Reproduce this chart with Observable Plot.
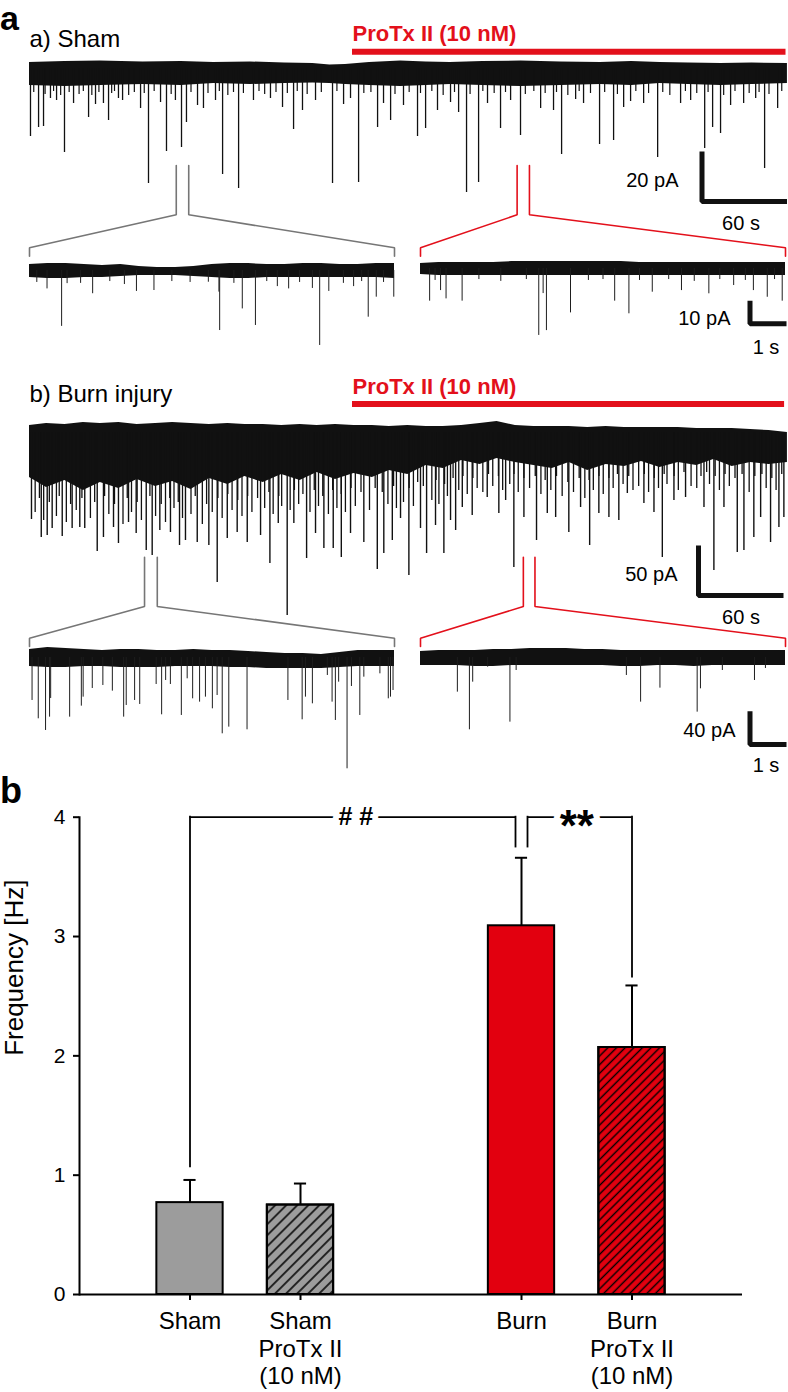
<!DOCTYPE html>
<html>
<head>
<meta charset="utf-8">
<script src="https://cdn.jsdelivr.net/npm/d3@7"></script>
<script src="https://cdn.jsdelivr.net/npm/@observablehq/plot@0.6"></script>
<style>
html,body{margin:0;padding:0;background:#fff;}
#fig{position:relative;width:788px;height:1392px;overflow:hidden;font-family:"Liberation Sans",Arial,Helvetica,sans-serif;color:#000;}
.layer{position:absolute;left:0;}
.layer svg{display:block;overflow:visible;background:transparent;}
.lbl{position:absolute;line-height:1;white-space:nowrap;}
</style>
</head>
<body>
<svg width="0" height="0" style="position:absolute">
 <defs>
  <pattern id="hatchSham" patternUnits="userSpaceOnUse" width="7.8" height="7.8" patternTransform="rotate(45)">
   <line x1="3.9" y1="-1" x2="3.9" y2="8.8" stroke="#000" stroke-width="1.5"/>
  </pattern>
  <pattern id="hatchBurn" patternUnits="userSpaceOnUse" width="6.1" height="6.1" patternTransform="rotate(45)">
   <line x1="3.05" y1="-1" x2="3.05" y2="7.1" stroke="#000" stroke-width="1.4"/>
  </pattern>
 </defs>
</svg>
<div id="fig"></div>
<script>
// ======================= DATA =======================
// Panel a(a) Sham, main recording: time [s], current [pA] relative to baseline
const shamBandT   = [0, 25, 50, 80, 107, 130, 156, 180, 200, 212, 223, 240, 262, 280, 297, 320, 347, 375, 403, 425, 445, 465, 488, 510, 535];
const shamBandHi  = [2.4, 2.8, 3.0, 2.6, 2.8, 2.4, 2.6, 2.2, 2.0, 1.4, 1.6, 2.4, 3.0, 2.6, 2.4, 2.8, 3.0, 2.6, 2.4, 2.8, 2.4, 2.2, 2.0, 2.2, 2.0];
const shamBandLo  = [-6.8, -7.2, -6.8, -6.4, -6.8, -6.0, -6.4, -6.0, -5.8, -6.0, -6.4, -6.8, -7.2, -6.8, -6.4, -6.8, -7.2, -6.8, -6.4, -6.8, -6.0, -6.4, -6.8, -6.4, -6.0];
const shamEvents  = [[0.7,-27.2],[6.4,-23.6],[9.9,-23.2],[24.7,-33.6],[41.7,-19.6],[55.8,-20.8],[84.0,-46.0],[96.7,-33.2],[107.3,-31.6],[110.8,-21.6],[136.3,-42.4],[147.6,-48.0],[186.4,-24.4],[213.9,-46.0],[232.3,-45.6],[245.7,-23.6],[254.9,-20.8],[273.9,-27.2],[279.6,-24.0],[308.5,-49.6],[317.0,-45.6],[332.5,-24.0],[346.6,-26.8],[375.6,-34.4],[402.4,-30.4],[412.3,-28.8],[443.4,-35.6],[476.6,-32.0],[482.2,-23.6],[487.8,-26.0],[518.9,-40.0],
  [14.8,-12.0],[31.1,-14.0],[46.6,-14.4],[52.2,-14.0],[65.7,-12.8],[78.4,-16.0],[118.6,-14.8],[122.8,-16.0],[158.1,-12.8],[178.6,-15.6],[192.7,-16.8],[221.7,-14.4],[249.9,-14.0],[264.0,-14.8],[288.0,-16.8],[302.9,-17.6],[323.3,-14.0],[360.8,-16.0],[369.9,-16.8],[391.1,-14.0],[419.4,-15.6],[433.5,-14.0],[459.6,-14.0],[494.9,-14.8],[504.1,-14.0],[528.1,-16.0],[19.1,-12.8],[62.8,-12.0],[92.5,-13.6],[103.0,-12.8],[131.3,-12.8],[170.1,-12.0],[201.9,-12.8],[226.6,-12.0],[297.2,-13.6],[339.6,-12.8],[385.5,-12.4],[424.3,-13.2],[466.7,-12.8],[512.6,-12.0]];
const shamShort   = [[3,-9.6],[11,-10.4],[17,-9.2],[22,-10.8],[28,-9.6],[35,-10.4],[38,-9.2],[44,-10.8],[49,-9.6],[58,-10.0],[60,-9.2],[70,-10.8],[74,-9.6],[81,-10.0],[88,-9.2],[100,-10.4],[114,-9.6],[126,-10.0],[134,-9.2],[140,-10.8],[144,-9.6],[151,-10.0],[162,-9.2],[166,-10.4],[174,-9.6],[182,-10.0],[189,-9.2],[196,-10.4],[206,-9.6],[217,-9.2],[236,-10.0],[241,-9.6],[258,-10.4],[268,-9.6],[276,-10.0],[284,-9.2],[292,-10.8],[300,-9.6],[311,-10.4],[320,-9.2],[328,-10.0],[336,-9.6],[350,-10.4],[356,-9.2],[364,-10.0],[372,-9.6],[380,-10.8],[388,-9.2],[396,-10.0],[406,-9.6],[415,-10.4],[428,-9.2],[437,-10.0],[447,-9.6],[452,-10.8],[463,-9.2],[471,-10.0],[479,-9.6],[490,-10.8],[498,-9.2],[508,-10.0],[515,-9.6],[522,-10.4],[531,-9.2]];
const shamDrug    = [228, 534];             // ProTx II application [s]
const shamZoomWin = [[103.6, 112.4], [344.2, 352.9]]; // expanded windows [s]
const shamScale   = {pA: 20, s: 60};

// Sham expanded segments (time [s], pA)
const subT           = [0, 0.5, 1, 1.5, 2, 2.5, 3, 3.5, 4, 4.5, 5, 5.5, 6, 6.5, 7, 7.5, 8, 8.5, 9, 9.5, 10];
const shamCtrlHi     = [2.6, 3.0, 3.0, 2.6, 2.2, 2.6, 1.7, 1.3, 1.3, 1.7, 2.6, 3.0, 3.0, 2.6, 2.6, 3.0, 3.0, 2.6, 2.6, 3.0, 3.0];
const shamCtrlLo     = [-3.0, -3.5, -3.5, -3.0, -3.0, -2.6, -2.2, -2.2, -2.2, -2.6, -3.0, -3.5, -3.5, -3.0, -3.0, -3.0, -3.0, -3.0, -3.0, -3.0, -3.5];
const shamCtrlEvents = [[0.48,-8.0],[0.88,-24.3],[1.03,-5.7],[1.73,-10.1],[2.93,-9.1],[3.41,-8.7],[4.90,-5.1],[5.19,-9.4],[5.21,-26.1],[5.83,-16.7],[6.19,-23.9],[6.79,-7.0],[7.10,-8.0],[7.75,-7.8],[7.95,-32.6],[8.20,-9.1],[8.88,-7.0],[9.28,-20.3],[9.50,-11.6],[9.98,-11.6],
  [0.2,-5.2],[1.4,-5.6],[2.2,-4.8],[2.6,-6.1],[3.9,-4.8],[4.4,-5.2],[5.6,-5.6],[6.5,-4.8],[7.4,-5.2],[8.6,-5.6],[9.1,-4.8],[9.7,-5.2]];
const shamDrugHi     = [2.2, 2.6, 2.6, 2.6, 2.6, 3.0, 3.0, 3.0, 3.0, 3.0, 3.0, 3.0, 2.6, 2.6, 2.6, 2.6, 2.6, 2.6, 2.6, 2.6, 2.6];
const shamDrugLo     = [-2.6, -3.0, -3.0, -3.0, -3.0, -3.0, -3.0, -3.0, -3.0, -3.0, -3.0, -3.0, -3.0, -3.0, -3.0, -3.0, -3.0, -3.0, -3.0, -3.0, -3.0];
const shamDrugEvents = [[0.25,-14.2],[0.55,-9.6],[0.70,-13.2],[1.14,-14.2],[3.24,-29.1],[3.36,-10.9],[3.45,-27.0],[4.11,-19.3],[5.32,-14.2],[5.71,-19.7],[6.35,-10.3],[7.15,-9.6],[7.90,-11.0],[8.58,-7.4],[9.12,-9.6],[9.50,-12.5],[9.91,-14.2],
  [0.4,-5.2],[1.6,-4.8],[2.2,-5.6],[2.9,-4.8],[4.6,-5.2],[5.0,-4.8],[6.0,-5.2],[6.8,-4.8],[7.5,-5.6],[8.2,-4.8],[8.9,-5.2],[9.7,-4.8]];
const shamSubScale   = {pA: 10, s: 1};

// Panel a(b) Burn injury, main recording
const burnBandT   = [0, 12, 25, 38, 50, 63, 76, 89, 101, 114, 127, 140, 152, 165, 178, 191, 203, 216, 229, 242, 254, 267, 280, 292, 305, 318, 330, 343, 356, 369, 381, 394, 407, 420, 432, 445, 458, 471, 483, 496, 509, 522, 535];
const burnBandHi  = [7, 9, 8, 10, 9, 10, 8, 9, 10, 9, 8, 9, 8, 8, 7, 8, 7, 8, 7, 7, 6, 7, 6, 6, 7, 9, 11, 7, 6, 6, 6, 5, 6, 5, 5, 5, 5, 4, 4, 4, 3, 2, 0];
const burnBandLo  = [-45, -55, -48, -58, -50, -56, -47, -54, -49, -57, -46, -52, -44, -50, -42, -48, -40, -47, -41, -45, -38, -42, -33, -36, -28, -32, -26, -30, -33, -36, -30, -38, -32, -34, -29, -35, -30, -33, -27, -34, -30, -32, -30];
const burnEvents  = [[1.4,-87],[8.3,-105],[12.5,-103],[16.0,-96],[23.1,-104],[30.1,-96],[35.5,-95],[39.0,-96],[47.8,-119],[52.2,-105],[59.3,-95],[62.8,-111],[69.9,-90],[75.3,-101],[82.4,-118],[86.6,-123],[92.0,-98],[99.5,-100],[105.9,-113],[110.1,-108],[118.4,-110],[126.6,-113],[132.5,-150],[139.6,-106],[146.6,-100],[153.7,-110],[163.1,-103],[169.7,-131],[175.6,-91],[181.9,-183],[186.6,-91],[195.6,-126],[201.9,-101],[207.8,-116],[214.4,-116],[220.1,-125],[226.6,-101],[236.0,-110],[245.5,-137],[250.1,-121],[256.1,-108],[261.9,-86],[267.8,-143],[276.0,-96],[280.3,-121],[286.6,-93],[292.5,-121],[297.2,-88],[300.8,-98],[305.5,-75],[312.5,-83],[323.1,-65],[331.3,-81],[336.1,-68],[341.9,-135],[349.0,-85],[357.9,-108],[365.5,-81],[371.4,-85],[380.7,-100],[389.0,-75],[395.4,-113],[401.9,-81],[409.0,-85],[416.0,-88],[422.0,-61],[433.7,-71],[440.8,-80],[446.7,-125],[454.9,-68],[463.1,-65],[476.1,-75],[483.1,-138],[490.2,-75],[499.6,-120],[504.3,-118],[511.3,-105],[516.1,-85],[523.1,-110],[529.0,-95],[532.5,-85]];
const burnFringe  = [[4,-80],[10,-88],[19,-84],[26,-90],[33,-78],[43,-86],[56,-82],[66,-92],[72,-80],[79,-88],[89,-84],[96,-90],[102,-76],[108,-86],[114,-82],[122,-92],[129,-80],[136,-86],[143,-78],[150,-84],[157,-80],[166,-76],[172,-82],[178,-74],[184,-78],[190,-72],[198,-80],[204,-74],[211,-82],[217,-76],[223,-80],[230,-74],[240,-78],[253,-72],[259,-76],[264,-70],[271,-74],[284,-68],[289,-72],[295,-64],[303,-58],[309,-62],[316,-56],[320,-60],[327,-54],[334,-58],[339,-52],[345,-60],[353,-56],[361,-62],[368,-58],[376,-64],[384,-60],[392,-66],[398,-58],[405,-62],[412,-56],[419,-52],[426,-58],[430,-54],[437,-60],[444,-56],[450,-52],[458,-58],[467,-54],[471,-56],[480,-52],[487,-58],[494,-54],[508,-60],[520,-56],[527,-58],
  [7,-66],[14,-70],[21,-64],[29,-72],[37,-66],[46,-70],[53,-64],[60,-72],[69,-66],[76,-70],[85,-64],[93,-72],[99,-66],[105,-70],[117,-64],[125,-72],[133,-66],[140,-62],[147,-68],[154,-64],[161,-66],[169,-60],[176,-64],[187,-58],[193,-62],[201,-58],[207,-64],[214,-58],[220,-62],[227,-56],[234,-60],[244,-56],[249,-60],[257,-54],[268,-56],[274,-50],[278,-54],[287,-48],[293,-52],[299,-46],[306,-44],[313,-46],[324,-42],[331,-44],[342,-42],[349,-46],[357,-44],[364,-48],[372,-44],[380,-50],[388,-46],[395,-48],[402,-44],[409,-46],[415,-42],[423,-44],[434,-42],[441,-46],[448,-42],[455,-44],[462,-40],[474,-44],[478,-40],[484,-44],[491,-42],[498,-46],[503,-42],[512,-44],[517,-42],[524,-46],[531,-42]];
const burnDrug    = [228, 533];
const burnZoomWin = [[81.2, 90.2], [348.6, 356.8]];
const burnScale   = {pA: 50, s: 60};

// Burn expanded segments
const burnCtrlHi     = [9.6, 12, 10.8, 9.6, 8.4, 9.6, 9.6, 8.4, 8.4, 9.6, 8.4, 8.4, 7.2, 6.0, 4.8, 4.8, 3.6, 6.0, 8.4, 8.4, 8.4];
const burnCtrlLo     = [-10.8, -12, -12, -10.8, -10.8, -12, -12, -12, -10.8, -10.8, -10.8, -12, -12, -13.2, -13.2, -13.2, -13.2, -12, -10.8, -10.8, -10.8];
const burnCtrlEvents = [[0.07,-51.6],[0.24,-73.6],[0.44,-87.6],[0.55,-71.6],[0.58,-49.2],[1.10,-71.6],[1.42,-58.4],[1.47,-47.6],[1.72,-37.2],[2.01,-33.6],[2.27,-40.4],[2.58,-71.6],[2.65,-57.6],[2.88,-51.6],[3.02,-56.4],[3.47,-32.4],[3.62,-68.8],[3.73,-27.6],[3.86,-32.4],[4.16,-69.6],[4.32,-25.6],[4.47,-49.6],[4.66,-53.6],[4.82,-47.6],[5.01,-61.6],[5.14,-45.6],[5.28,-91.6],[5.46,-83.6],[5.96,-86.8],[7.08,-51.6],[7.47,-74.8],[7.56,-47.6],[7.75,-55.6],[8.16,-21.6],[8.29,-53.6],[8.38,-75.6],[8.47,-29.6],[8.70,-133.6],[8.82,-34.8],[9.05,-69.6],[9.16,-23.6],[9.60,-19.6],[9.83,-49.6],[9.89,-47.6],[9.96,-39.6]];
const burnDrugHi     = [7.2, 8.4, 8.4, 8.4, 9.6, 9.6, 10.8, 10.8, 10.8, 9.6, 9.6, 8.4, 8.4, 8.4, 8.4, 8.4, 8.4, 8.4, 8.4, 8.4, 8.4];
const burnDrugLo     = [-9.6, -9.6, -9.6, -10.8, -10.8, -9.6, -9.6, -9.6, -9.6, -9.6, -9.6, -10.8, -10.8, -9.6, -9.6, -10.8, -9.6, -9.6, -9.6, -9.6, -9.6];
const burnDrugEvents = [[1.01,-41.6],[1.34,-86.8],[1.43,-29.6],[1.84,-11.6],[2.45,-77.6],[2.62,-15.6],[5.64,-21.6],[6.03,-53.6],[6.56,-36.8],[7.58,-65.6],[7.67,-37.6],[8.27,-15.6],[9.15,-27.6],[9.45,-13.2]];
const burnSubScale   = {pA: 40, s: 1};

// Panel b: sEPSC frequency
const barCats   = ["Sham", "Sham ProTx II", "Burn", "Burn ProTx II"];
const barLabels = ["Sham", "Sham\nProTx II\n(10 nM)", "Burn", "Burn\nProTx II\n(10 nM)"];
const barMean   = [0.77, 0.75, 3.09, 2.07];
const barSEM    = [0.19, 0.18, 0.57, 0.52];
const barGroup  = ["sham", "sham", "burn", "burn"];
const barHatch  = [false, true, false, true];
const yTicks    = [0, 1, 2, 3, 4];
const sigFrom   = ["Sham", "Burn"];
const sigTo     = ["Burn", "Burn ProTx II"];
const sigLevel  = [4, 4];
const sigFromLeg= [1.07, 3.75];
const sigToLeg  = [3.75, 2.66];
const sigMark   = ["# #", "**"];

// ======================= LAYOUT / STYLE =======================
const FONT = '"Liberation Sans", Arial, Helvetica, sans-serif';
const RED = "#e3101b", BAR_RED = "#e2000f", BAR_GRAY = "#9c9c9c", INK = "#111", SUB_INK = "#1e1e1e", ZOOM_GRAY = "#767676";
const W = 788;
const MAIN_LEFT = 29, MAIN_PXS = 85 / 60, MAIN_T = (W - MAIN_LEFT) / MAIN_PXS;
const SUB_PXS = 36.5, SUB_T = 10, SUB_LEFT = [29, 420];
const fig = document.getElementById("fig");
const baseStyle = {background: "transparent", overflow: "visible", fontFamily: FONT, color: "#000"};

function place(node, top) {
  const d = document.createElement("div");
  d.className = "layer"; d.style.top = top + "px";
  d.appendChild(node); fig.appendChild(d);
}
function htmlLabel(text, left, baseline, size, weight) {
  const d = document.createElement("div");
  d.className = "lbl"; d.textContent = text;
  d.style.left = left + "px"; d.style.top = (baseline - 0.8465 * size) + "px";
  d.style.fontSize = size + "px"; d.style.fontWeight = weight || "normal";
  fig.appendChild(d);
}
function trace({top, height, base, pxPA, left, pxS, tMax, build}) {
  const Y = px => (base - px) / pxPA;   // page px -> pA
  const T = px => (px - left) / pxS;    // page px -> s
  const right = left + tMax * pxS;
  const svg = Plot.plot({
    width: W, height, marginTop: 0, marginBottom: 0, marginLeft: left, marginRight: W - right,
    x: {domain: [0, tMax], axis: null},
    y: {domain: [Y(top + height), Y(top)], axis: null},
    style: baseStyle,
    marks: build(Y, T)
  });
  place(svg, top);
}
const band = (t, hi, lo, fill) =>
  Plot.areaY(t.map((d, i) => ({t: d, hi: hi[i], lo: lo[i]})), {x: "t", y1: "lo", y2: "hi", fill, curve: "linear"});
const events = (ev, stroke, w) => Plot.ruleX(ev, {x: d => d[0], y1: 0, y2: d => d[1], stroke, strokeWidth: w});
const txt = (s, x, y, o) => Plot.text([s], {x, y, text: d => d, lineAnchor: "bottom", fontSize: 20, ...o});
const lBar = (pts) => Plot.line(pts, {x: d => d[0], y: d => d[1], stroke: INK, strokeWidth: 5, strokeLinejoin: "miter", strokeLinecap: "butt"});
function scaleBarPts(T, Y, xc, yc, sc) {
  return [[T(xc), Y(yc) + sc.pA], [T(xc), Y(yc)], [T(xc) + sc.s, Y(yc)]];
}
function callouts(T, Y, wins, yTop, yKnee, yDiag, yEnd) {
  const marks = [];
  wins.forEach((w, k) => {
    const subL = SUB_LEFT[k], subR = SUB_LEFT[k] + SUB_T * SUB_PXS;
    const col = k === 0 ? ZOOM_GRAY : RED;
    const pts = [
      [w[0], Y(yTop), "a"], [w[0], Y(yKnee), "a"], [T(subL), Y(yDiag), "a"], [T(subL), Y(yEnd), "a"],
      [w[1], Y(yTop), "b"], [w[1], Y(yKnee), "b"], [T(subR), Y(yDiag), "b"], [T(subR), Y(yEnd), "b"]
    ];
    marks.push(Plot.line(pts, {x: d => d[0], y: d => d[1], z: d => d[2], stroke: col, strokeWidth: 1.6, strokeLinejoin: "miter"}));
  });
  return marks;
}

// ---------- panel labels ----------
htmlLabel("a", 0, 30, 34, "bold");
htmlLabel("b", 0, 803, 36, "bold");

// ---------- Sham main trace ----------
trace({top: 0, height: 262, base: 68, pxPA: 2.5, left: MAIN_LEFT, pxS: MAIN_PXS, tMax: MAIN_T, build: (Y, T) => [
  band(shamBandT, shamBandHi, shamBandLo, INK),
  events(shamShort, INK, 1.2),
  events(shamEvents, INK, 1.3),
  Plot.ruleY([0], {y: Y(51.3), x1: shamDrug[0], x2: shamDrug[1], stroke: RED, strokeWidth: 6}),
  txt("ProTx II (10 nM)", shamDrug[0], Y(40.7), {fill: RED, fontWeight: "bold", fontSize: 22, textAnchor: "start"}),
  txt("a) Sham", 0, Y(46), {fontSize: 24, textAnchor: "start"}),
  lBar(scaleBarPts(T, Y, 701.5, 201, shamScale)),
  txt(shamScale.pA + " pA", T(678), Y(186.5), {textAnchor: "end"}),
  txt(shamScale.s + " s", T(740.5), Y(229.5), {textAnchor: "middle"}),
  ...callouts(T, Y, shamZoomWin, 165, 214.3, 247.3, 255.7)
]});

// ---------- Sham expanded ----------
trace({top: 250, height: 115, base: 270, pxPA: 2.3, left: SUB_LEFT[0], pxS: SUB_PXS, tMax: SUB_T, build: () => [
  band(subT, shamCtrlHi, shamCtrlLo, INK),
  events(shamCtrlEvents, SUB_INK, 1)
]});
trace({top: 250, height: 115, base: 268, pxPA: 2.3, left: SUB_LEFT[1], pxS: SUB_PXS, tMax: SUB_T, build: (Y, T) => [
  band(subT, shamDrugHi, shamDrugLo, INK),
  events(shamDrugEvents, SUB_INK, 1),
  lBar(scaleBarPts(T, Y, 749.5, 323.3, shamSubScale)),
  txt(shamSubScale.pA + " pA", T(730), Y(324.5), {textAnchor: "end"}),
  txt(shamSubScale.s + " s", T(765.5), Y(353), {textAnchor: "middle"})
]});

// ---------- Burn main trace ----------
trace({top: 360, height: 300, base: 432, pxPA: 1, left: MAIN_LEFT, pxS: MAIN_PXS, tMax: MAIN_T, build: (Y, T) => [
  band(burnBandT, burnBandHi, burnBandLo, INK),
  events(burnFringe, INK, 1.3),
  events(burnEvents, INK, 1.4),
  Plot.ruleY([0], {y: Y(403.5), x1: burnDrug[0], x2: burnDrug[1], stroke: RED, strokeWidth: 6}),
  txt("ProTx II (10 nM)", burnDrug[0], Y(393), {fill: RED, fontWeight: "bold", fontSize: 22, textAnchor: "start"}),
  txt("b) Burn injury", 0, Y(401), {fontSize: 24, textAnchor: "start"}),
  lBar(scaleBarPts(T, Y, 698, 595, burnScale)),
  txt(burnScale.pA + " pA", T(677), Y(580), {textAnchor: "end"}),
  txt(burnScale.s + " s", T(740.5), Y(623), {textAnchor: "middle"}),
  ...callouts(T, Y, burnZoomWin, 556.7, 606, 637.7, 646)
]});

// ---------- Burn expanded ----------
trace({top: 640, height: 140, base: 657, pxPA: 0.833, left: SUB_LEFT[0], pxS: SUB_PXS, tMax: SUB_T, build: () => [
  band(subT, burnCtrlHi, burnCtrlLo, INK),
  events(burnCtrlEvents, SUB_INK, 1)
]});
trace({top: 640, height: 140, base: 657, pxPA: 0.833, left: SUB_LEFT[1], pxS: SUB_PXS, tMax: SUB_T, build: (Y, T) => [
  band(subT, burnDrugHi, burnDrugLo, INK),
  events(burnDrugEvents, SUB_INK, 1),
  lBar(scaleBarPts(T, Y, 749.5, 744, burnSubScale)),
  txt(burnSubScale.pA + " pA", T(735), Y(736.5), {textAnchor: "end"}),
  txt(burnSubScale.s + " s", T(765.5), Y(771.5), {textAnchor: "middle"})
]});

// ---------- Panel b: bar chart ----------
const slotOf = i => (i < 2 ? i + 1 : i + 2);   // empty slot between groups
const bars = barCats.map((c, i) => ({c, label: barLabels[i], mean: barMean[i], sem: barSEM[i], group: barGroup[i], hatch: barHatch[i], slot: slotOf(i)}));
const slotByCat = Object.fromEntries(bars.map(b => [b.c, b.slot]));
const HALF = 0.3, CAP = 0.055, LEG_SHIFT = 6;
const sigs = sigFrom.map((f, k) => {
  const shared = c => sigFrom.filter(x => x === c).length + sigTo.filter(x => x === c).length > 1;
  return {from: f, to: sigTo[k], y: sigLevel[k], fromLeg: sigFromLeg[k], toLeg: sigToLeg[k], mark: sigMark[k],
          fromDx: shared(f) ? LEG_SHIFT : 0, toDx: shared(sigTo[k]) ? -LEG_SHIFT : 0};
});
const barRect = (data, fill) => Plot.rectY(data, {x1: d => d.slot - HALF, x2: d => d.slot + HALF, y1: 0, y2: "mean", fill, stroke: "#000", strokeWidth: 2});
const sigMarks = sigs.flatMap(s => [
  Plot.ruleX([s], {x: d => slotByCat[d.from], y1: "fromLeg", y2: "y", dx: s.fromDx, strokeWidth: 1.8, strokeLinecap: "square"}),
  Plot.ruleX([s], {x: d => slotByCat[d.to], y1: "toLeg", y2: "y", dx: s.toDx, strokeWidth: 1.8, strokeLinecap: "square"}),
  Plot.ruleY([s], {x1: d => slotByCat[d.from], x2: d => slotByCat[d.to], y: "y", insetLeft: Math.max(0, s.fromDx), insetRight: Math.max(0, -s.toDx), strokeWidth: 1.8}),
  s.mark === "**"
    ? Plot.text([s], {x: d => (slotByCat[d.from] + slotByCat[d.to]) / 2, y: "y", text: "mark", fontWeight: "bold", fontSize: 44, lineAnchor: "bottom", dy: 24, stroke: "white", strokeWidth: 12, fill: "#000"})
    : Plot.text([s], {x: d => (slotByCat[d.from] + slotByCat[d.to]) / 2, y: "y", text: "mark", fontWeight: "bold", fontSize: 25, lineAnchor: "middle", stroke: "white", strokeWidth: 12, fill: "#000"})
]);

const pb = Plot.plot({
  width: W, height: 612, marginTop: 36.7, marginBottom: 98, marginLeft: 79, marginRight: 46,
  x: {domain: [0, 6], axis: null},
  y: {domain: [0, 4], axis: null},
  style: baseStyle,
  marks: [
    barRect(bars.filter(d => d.group === "sham"), BAR_GRAY),
    barRect(bars.filter(d => d.group === "burn"), BAR_RED),
    barRect(bars.filter(d => d.hatch && d.group === "sham"), "url(#hatchSham)"),
    barRect(bars.filter(d => d.hatch && d.group === "burn"), "url(#hatchBurn)"),
    Plot.ruleX(bars, {x: "slot", y1: "mean", y2: d => d.mean + d.sem, strokeWidth: 2}),
    Plot.ruleY(bars, {x1: d => d.slot - CAP, x2: d => d.slot + CAP, y: d => d.mean + d.sem, strokeWidth: 2}),
    ...sigMarks,
    Plot.ruleY([0], {strokeWidth: 2}),
    Plot.frame({anchor: "left", strokeWidth: 2}),
    Plot.axisY({ticks: yTicks, tickFormat: d => String(d), tickSize: 6, tickPadding: 8, fontSize: 21, strokeWidth: 2, label: null}),
    Plot.axisX({ticks: bars.map(b => b.slot), tickFormat: d => bars.find(b => b.slot === d).label, tickSize: 6, tickPadding: 9, fontSize: 24, lineHeight: 1.15, strokeWidth: 2, label: null}),
    Plot.text(["Frequency [Hz]"], {frameAnchor: "left", dx: -65, rotate: -90, fontSize: 26, text: d => d})
  ]
});
place(pb, 780);
</script>
</body>
</html>
